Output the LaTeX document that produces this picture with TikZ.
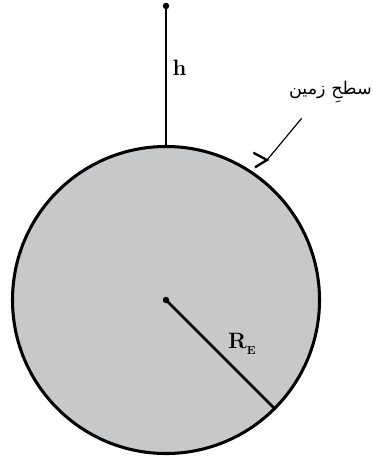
\documentclass[tikz,border=0pt]{standalone}
\usepackage{fontspec}
\usepackage{tikz}
\usetikzlibrary{positioning}
\newfontfamily\urdufont[Script=Arabic]{DejaVu Sans}
\TeXXeTstate=1
\definecolor{earthgray}{RGB}{199,200,202}

\begin{document}
\begin{tikzpicture}[
  x=0.03cm, y=-0.03cm,
  earthbody/.style={circle, draw, line width=2.6pt, fill=earthgray, minimum size=9.21cm, inner sep=0pt},
  rod/.style={line width=2pt},
  dotmark/.style={circle, fill, inner sep=0pt, minimum size=5.5pt},
  lbl/.style={inner sep=0pt, anchor=base west, font=\fontsize{19}{22}\selectfont\bfseries}
]
\useasboundingbox (0,0) rectangle (373,458);
\node[earthbody] (earth) at (166,300) {};
\node[dotmark] (centre) at (166,300) {};
\node[dotmark] (top) at (166,6) {};

\draw[rod] (top.center) -- (earth.north);
\draw[rod, line width=2.4pt] (centre.center) -- (earth.-45);

\node[lbl] (hlabel) at (172.5,76) {h};
\node[lbl] (rlabel) at (228,348.3) {R\raisebox{-5.7pt}{\fontsize{10}{11}\selectfont E}};

% label of the surface
\node[anchor=east, inner sep=0pt, font=\fontsize{15}{18}\selectfont\urdufont] (surface) at (372,92) {\beginR سطحِ زمین\endR};
\coordinate (leadtop) at (301.7,118.3);
\coordinate (tick) at (267,160);
\draw[line width=1pt] (leadtop) -- (tick);
\draw[line width=2pt] (253.3,152.7) -- (tick) -- (255,167.3);
\end{tikzpicture}
\end{document}
